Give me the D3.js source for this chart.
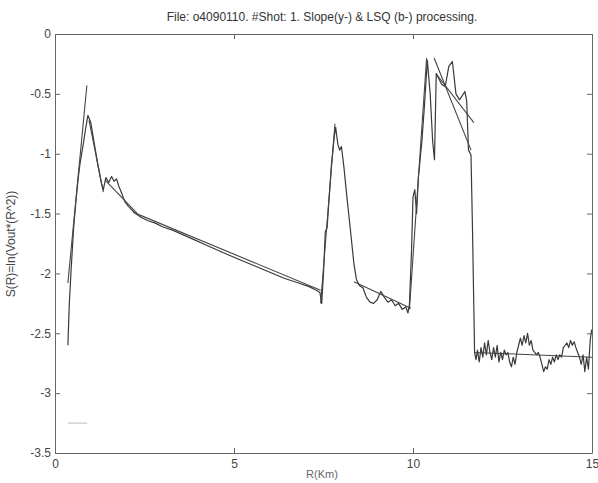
<!DOCTYPE html>
<html>
<head>
<meta charset="utf-8">
<script src="https://cdn.jsdelivr.net/npm/d3@7"></script>
<style>
  body { margin: 0; background: #fff; }
  svg { display: block; }
  .axis text { font-family: "Liberation Sans", Arial, sans-serif; font-size: 12px; fill: #444; }
  .axis path, .axis line { stroke: #666; }
</style>
</head>
<body>
<div id="chart"></div>
<script>
// range (km) and signal S(R)
var rangeKm = [0.36, 0.40, 0.45, 0.52, 0.58, 0.65, 0.70, 0.80, 0.85, 0.92, 1.00, 1.10, 1.20, 1.30, 1.35,
    1.42, 1.50, 1.58, 1.65, 1.72, 1.78, 1.85, 1.95, 2.05, 2.15, 2.25, 2.40, 2.60, 2.80, 3.00, 3.30,
    3.60, 3.90, 4.20, 4.50, 4.80, 5.20, 5.60, 6.00, 6.40, 6.80, 7.10, 7.30, 7.40, 7.45, 7.50, 7.55,
    7.60, 7.65, 7.72, 7.80, 7.84, 7.90, 7.95, 8.00, 8.07, 8.15, 8.26, 8.35, 8.42, 8.50, 8.60, 8.70,
    8.80, 8.90, 9.00, 9.10, 9.20, 9.30, 9.40, 9.50, 9.60, 9.70, 9.80, 9.86, 9.90, 9.96, 10.00, 10.05,
    10.10, 10.15, 10.25, 10.32, 10.40, 10.48, 10.55, 10.60, 10.65, 10.80, 10.90, 11.00, 11.10, 11.20,
    11.30, 11.45, 11.50, 11.55, 11.62, 11.66, 11.70, 11.72,
    11.76, 11.80, 11.85, 11.90, 11.95, 12.00, 12.05, 12.10, 12.15, 12.20, 12.25, 12.30, 12.35, 12.40,
    12.45, 12.50, 12.55, 12.60, 12.65, 12.70, 12.75, 12.80, 12.85, 12.90, 12.95, 13.00, 13.05, 13.10,
    13.15, 13.20, 13.25, 13.30, 13.35, 13.40, 13.45, 13.50, 13.55, 13.60, 13.65, 13.70, 13.75, 13.80,
    13.85, 13.90, 13.95, 14.00, 14.05, 14.10, 14.15, 14.20, 14.25, 14.30, 14.35, 14.40, 14.45, 14.50,
    14.55, 14.60, 14.65, 14.70, 14.75, 14.80, 14.85, 14.90, 14.95, 14.99];

var signal = [-2.60, -2.25, -1.97, -1.62, -1.41, -1.20, -1.08, -0.90, -0.80, -0.68, -0.74, -0.92, -1.10, -1.25, -1.30,
    -1.20, -1.24, -1.19, -1.23, -1.21, -1.27, -1.32, -1.40, -1.44, -1.47, -1.50, -1.53, -1.56, -1.58, -1.61, -1.64,
    -1.68, -1.72, -1.76, -1.80, -1.84, -1.89, -1.94, -1.99, -2.04, -2.08, -2.11, -2.14, -2.16, -2.25, -2.00, -1.65,
    -1.62, -1.40, -1.10, -0.86, -0.78, -0.92, -0.97, -0.94, -1.11, -1.35, -1.66, -1.92, -2.05, -2.10, -2.12, -2.20,
    -2.24, -2.25, -2.22, -2.15, -2.20, -2.24, -2.22, -2.27, -2.25, -2.30, -2.28, -2.33, -2.26, -1.80, -1.36, -1.30,
    -1.50, -1.20, -0.89, -0.60, -0.22, -0.50, -0.90, -1.05, -0.33, -0.42, -0.44, -0.27, -0.23, -0.50,
    -0.55, -0.48, -0.56, -0.97, -1.01, -1.60, -2.30, -2.66,
    -2.72, -2.64, -2.74, -2.62, -2.70, -2.58, -2.68, -2.56, -2.66, -2.72, -2.62, -2.70, -2.60, -2.74,
    -2.66, -2.72, -2.64, -2.68, -2.66, -2.74, -2.78, -2.70, -2.76, -2.66, -2.60, -2.54, -2.60, -2.52,
    -2.58, -2.50, -2.60, -2.56, -2.64, -2.66, -2.68, -2.66, -2.70, -2.76, -2.82, -2.78, -2.80, -2.72,
    -2.76, -2.70, -2.74, -2.68, -2.72, -2.68, -2.70, -2.62, -2.60, -2.58, -2.62, -2.56, -2.60, -2.57,
    -2.62, -2.66, -2.70, -2.76, -2.68, -2.82, -2.70, -2.80, -2.56, -2.47];

// fitted segments: [R0, S0, R1, S1]
var fitLines = [
    [0.36, -2.08, 0.89, -0.43],
    [0.95, -0.72, 1.35, -1.32],
    [1.40, -1.22, 2.30, -1.50],
    [2.19, -1.49, 7.42, -2.14],
    [7.42, -2.25, 7.82, -0.75],
    [8.35, -2.07, 9.94, -2.29],
    [9.90, -2.30, 10.38, -0.20],
    [10.59, -0.20, 11.62, -0.97],
    [10.64, -0.33, 11.70, -0.74],
    [11.72, -2.66, 15.00, -2.70]
];

var stubLine = [0.36, -3.25, 0.90, -3.25];

var xTicks = [0, 5, 10, 15],
    yTicks = [0, -0.5, -1, -1.5, -2, -2.5, -3, -3.5];

var W = 598, H = 483,
    padL = 55, padR = 592, padT = 34, padB = 453;

var svg = d3.select("#chart")
    .append("svg")
    .attr("width", W)
    .attr("height", H);

var x = d3.scaleLinear().domain([0, 15]).range([padL, padR]),
    y = d3.scaleLinear().domain([-3.5, 0]).range([padB, padT]);

svg.append("text")
    .attr("x", 322)
    .attr("y", 21)
    .attr("text-anchor", "middle")
    .attr("font-family", "Liberation Sans, Arial, sans-serif")
    .attr("font-size", 12)
    .attr("fill", "#333")
    .text("File: o4090110. #Shot: 1. Slope(y-) & LSQ (b-) processing.");

// axes with inward ticks, box style
svg.append("g").attr("class", "axis")
    .attr("transform", "translate(0," + padB + ")")
    .call(d3.axisBottom(x).tickValues(xTicks).tickSizeInner(-5).tickSizeOuter(0).tickPadding(6));
svg.append("g").attr("class", "axis")
    .attr("transform", "translate(0," + padT + ")")
    .call(d3.axisTop(x).tickValues(xTicks).tickSizeInner(-5).tickSizeOuter(0).tickFormat(""));
svg.append("g").attr("class", "axis")
    .attr("transform", "translate(" + padL + ",0)")
    .call(d3.axisLeft(y).tickValues(yTicks).tickSizeInner(-5).tickSizeOuter(0).tickPadding(4)
        .tickFormat(function (d) { return String(d); }));
svg.append("g").attr("class", "axis")
    .attr("transform", "translate(" + padR + ",0)")
    .call(d3.axisRight(y).tickValues(yTicks).tickSizeInner(-5).tickSizeOuter(0).tickFormat(""));

svg.append("text")
    .attr("x", 322)
    .attr("y", 478)
    .attr("text-anchor", "middle")
    .attr("font-family", "Liberation Sans, Arial, sans-serif")
    .attr("font-size", 11)
    .attr("fill", "#666")
    .text("R(Km)");

svg.append("text")
    .attr("transform", "translate(15,244) rotate(-90)")
    .attr("text-anchor", "middle")
    .attr("font-family", "Liberation Sans, Arial, sans-serif")
    .attr("font-size", 12)
    .attr("fill", "#444")
    .text("S(R)=ln(Vout*(R^2))");

var line = d3.line()
    .x(function (d, i) { return x(rangeKm[i]); })
    .y(function (d) { return y(d); });

svg.append("path")
    .datum(signal)
    .attr("d", line)
    .attr("fill", "none")
    .attr("stroke", "#3a3a3a")
    .attr("stroke-width", 1.2)
    .attr("stroke-linejoin", "round");

svg.selectAll(".fit")
    .data(fitLines)
    .enter()
    .append("line")
    .attr("class", "fit")
    .attr("x1", function (d) { return x(d[0]); })
    .attr("y1", function (d) { return y(d[1]); })
    .attr("x2", function (d) { return x(d[2]); })
    .attr("y2", function (d) { return y(d[3]); })
    .attr("stroke", "#444")
    .attr("stroke-width", 1.1);

svg.append("line")
    .attr("x1", x(stubLine[0]))
    .attr("y1", y(stubLine[1]))
    .attr("x2", x(stubLine[2]))
    .attr("y2", y(stubLine[3]))
    .attr("stroke", "#bbb")
    .attr("stroke-width", 1);
</script>
</body>
</html>
